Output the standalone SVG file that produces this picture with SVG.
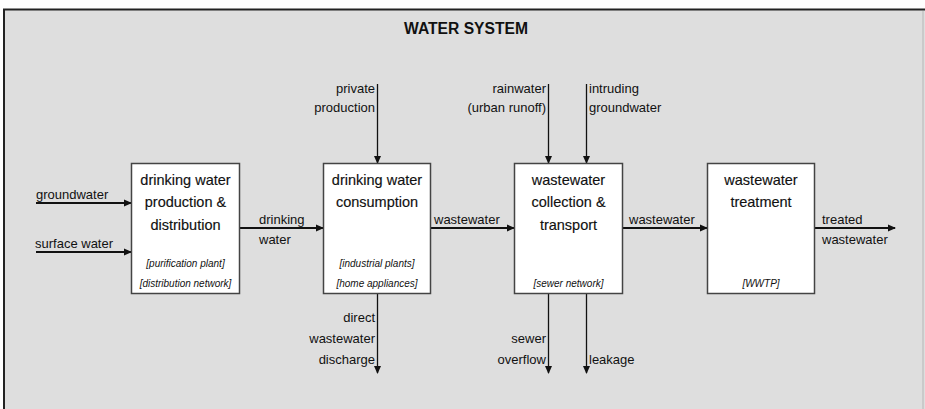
<svg xmlns="http://www.w3.org/2000/svg" width="925" height="409" viewBox="0 0 925 409">
<style>
text{font-family:"Liberation Sans",Arial,sans-serif;fill:#111}
.box{fill:#fff;stroke:#444;stroke-width:1.5}
.bt{font-size:14.5px;text-anchor:middle;stroke:#111;stroke-width:0.15}
.it{font-size:10px;font-style:italic;text-anchor:middle}
.lb{font-size:13px}
.r{text-anchor:end}
.c{stroke:#111;stroke-width:2;fill:none;marker-end:url(#ah)}
.v{stroke-width:1.3}
</style>
<defs>
<marker id="ah" viewBox="0 0 8 8" refX="7" refY="4" markerWidth="8" markerHeight="8" markerUnits="userSpaceOnUse" orient="auto">
<path d="M0,0.5 L8,4 L0,7.5 Z" fill="#111"/>
</marker>
</defs>
<rect x="0" y="0" width="925" height="409" fill="#fff"/>
<rect x="4" y="9.5" width="921" height="400" fill="#dedede"/>
<path d="M4,409 V9.5 H925" fill="none" stroke="#222" stroke-width="2"/>
<line x1="923" y1="11" x2="923" y2="409" stroke="#cacaca" stroke-width="2"/>
<text x="466" y="34" font-size="16" font-weight="bold" text-anchor="middle" textLength="124" lengthAdjust="spacingAndGlyphs">WATER SYSTEM</text>

<g id="connectors">
<line class="c" x1="36" y1="203" x2="131" y2="203"/>
<line class="c" x1="36" y1="252" x2="131" y2="252"/>
<line class="c" x1="240" y1="228" x2="323" y2="228"/>
<line class="c" x1="430" y1="228" x2="514" y2="228"/>
<line class="c" x1="622" y1="228" x2="707" y2="228"/>
<line class="c" x1="814" y1="228" x2="895" y2="228"/>
<line class="c v" x1="377.5" y1="84" x2="377.5" y2="163"/>
<line class="c v" x1="548.5" y1="84" x2="548.5" y2="163"/>
<line class="c v" x1="586.5" y1="84" x2="586.5" y2="163"/>
<line class="c v" x1="377.5" y1="293" x2="377.5" y2="373"/>
<line class="c v" x1="548.5" y1="293" x2="548.5" y2="373"/>
<line class="c v" x1="586.5" y1="293" x2="586.5" y2="373"/>
<text class="lb" x="36" y="199">groundwater</text>
<text class="lb" x="35" y="248">surface water</text>
<text class="lb" x="259" y="224">drinking</text>
<text class="lb" x="259" y="244">water</text>
<text class="lb" x="434" y="224" font-size="14">wastewater</text>
<text class="lb" x="629" y="224" font-size="14">wastewater</text>
<text class="lb" x="822" y="224">treated</text>
<text class="lb" x="822" y="244">wastewater</text>
<text class="lb r" x="375" y="93">private</text>
<text class="lb r" x="375" y="112">production</text>
<text class="lb r" x="546" y="93">rainwater</text>
<text class="lb r" x="546" y="112">(urban runoff)</text>
<text class="lb" x="589" y="93">intruding</text>
<text class="lb" x="589" y="112">groundwater</text>
<text class="lb r" x="375" y="322">direct</text>
<text class="lb r" x="375" y="343">wastewater</text>
<text class="lb r" x="375" y="364">discharge</text>
<text class="lb r" x="546" y="343">sewer</text>
<text class="lb r" x="546" y="364">overflow</text>
<text class="lb" x="589" y="364">leakage</text>
</g>

<g id="n1">
<rect class="box" x="131.5" y="163.5" width="108" height="130"/>
<text class="bt" x="185.5" y="185">drinking water</text>
<text class="bt" x="185.5" y="207">production &amp;</text>
<text class="bt" x="185.5" y="230">distribution</text>
<text class="it" x="185.5" y="267">[purification plant]</text>
<text class="it" x="185.5" y="287">[distribution network]</text>
</g>
<g id="n2">
<rect class="box" x="323.5" y="163.5" width="107" height="130"/>
<text class="bt" x="377" y="185">drinking water</text>
<text class="bt" x="377" y="207">consumption</text>
<text class="it" x="377" y="267">[industrial plants]</text>
<text class="it" x="377" y="287">[home appliances]</text>
</g>
<g id="n3">
<rect class="box" x="514.5" y="163.5" width="108" height="130"/>
<text class="bt" x="568.5" y="185">wastewater</text>
<text class="bt" x="568.5" y="207">collection &amp;</text>
<text class="bt" x="568.5" y="230">transport</text>
<text class="it" x="568.5" y="287">[sewer network]</text>
</g>
<g id="n4">
<rect class="box" x="707.5" y="163.5" width="107" height="130"/>
<text class="bt" x="761" y="185">wastewater</text>
<text class="bt" x="761" y="207">treatment</text>
<text class="it" x="761" y="287">[WWTP]</text>
</g>
</svg>
